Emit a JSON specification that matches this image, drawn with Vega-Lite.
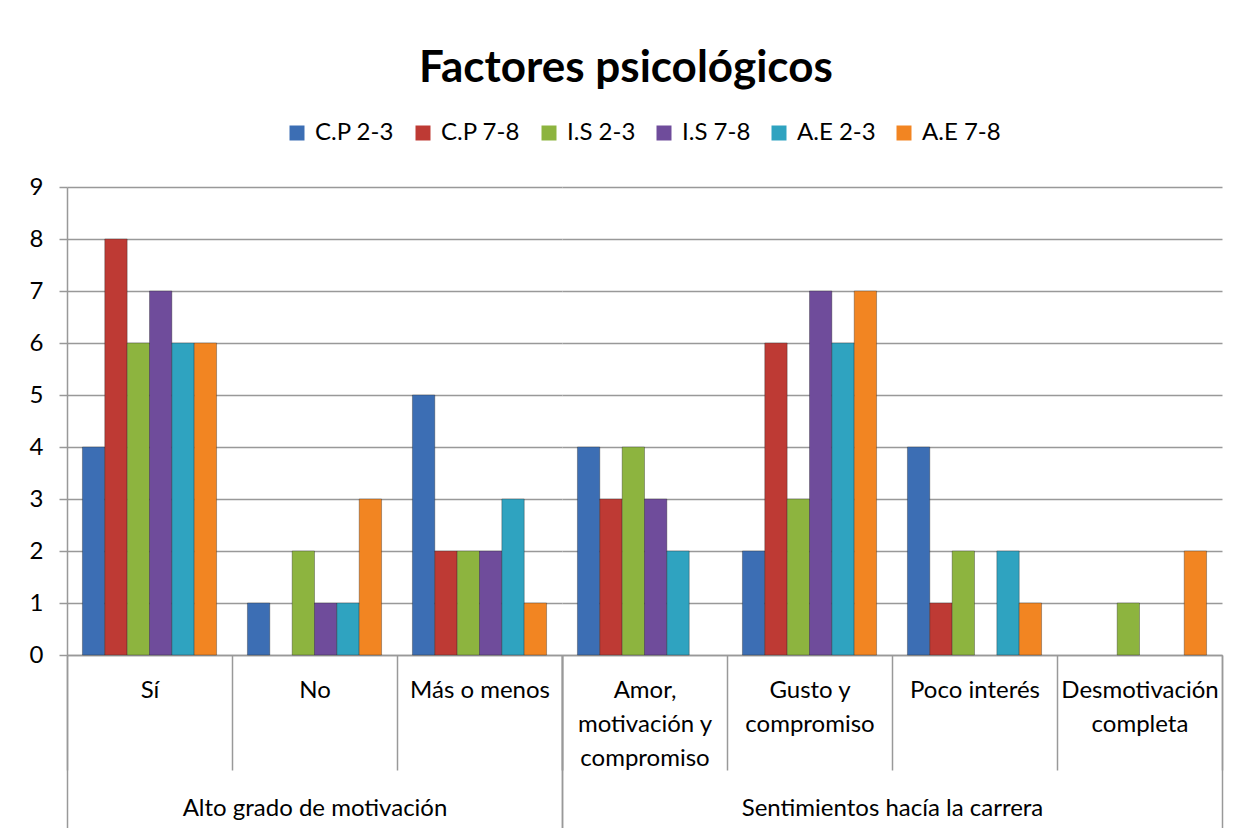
{
  "$schema": "https://vega.github.io/schema/vega-lite/v6.json",
  "background": "white",
  "padding": {"left": 29, "top": 47, "right": 10, "bottom": 0},
  "title": {"text": "Factores psicológicos", "font": "Lato", "fontSize": 44, "fontWeight": "bold", "color": "#000000", "anchor": "middle", "offset": 30},
  "data": {"values": [
    {"group": "Alto grado de motivación", "category": "Sí", "series": "C.P 2-3", "value": 4},
    {"group": "Alto grado de motivación", "category": "Sí", "series": "C.P 7-8", "value": 8},
    {"group": "Alto grado de motivación", "category": "Sí", "series": "I.S 2-3", "value": 6},
    {"group": "Alto grado de motivación", "category": "Sí", "series": "I.S 7-8", "value": 7},
    {"group": "Alto grado de motivación", "category": "Sí", "series": "A.E 2-3", "value": 6},
    {"group": "Alto grado de motivación", "category": "Sí", "series": "A.E 7-8", "value": 6},
    {"group": "Alto grado de motivación", "category": "No", "series": "C.P 2-3", "value": 1},
    {"group": "Alto grado de motivación", "category": "No", "series": "C.P 7-8", "value": 0},
    {"group": "Alto grado de motivación", "category": "No", "series": "I.S 2-3", "value": 2},
    {"group": "Alto grado de motivación", "category": "No", "series": "I.S 7-8", "value": 1},
    {"group": "Alto grado de motivación", "category": "No", "series": "A.E 2-3", "value": 1},
    {"group": "Alto grado de motivación", "category": "No", "series": "A.E 7-8", "value": 3},
    {"group": "Alto grado de motivación", "category": "Más o menos", "series": "C.P 2-3", "value": 5},
    {"group": "Alto grado de motivación", "category": "Más o menos", "series": "C.P 7-8", "value": 2},
    {"group": "Alto grado de motivación", "category": "Más o menos", "series": "I.S 2-3", "value": 2},
    {"group": "Alto grado de motivación", "category": "Más o menos", "series": "I.S 7-8", "value": 2},
    {"group": "Alto grado de motivación", "category": "Más o menos", "series": "A.E 2-3", "value": 3},
    {"group": "Alto grado de motivación", "category": "Más o menos", "series": "A.E 7-8", "value": 1},
    {"group": "Sentimientos hacía la carrera", "category": "Amor, motivación y compromiso", "series": "C.P 2-3", "value": 4},
    {"group": "Sentimientos hacía la carrera", "category": "Amor, motivación y compromiso", "series": "C.P 7-8", "value": 3},
    {"group": "Sentimientos hacía la carrera", "category": "Amor, motivación y compromiso", "series": "I.S 2-3", "value": 4},
    {"group": "Sentimientos hacía la carrera", "category": "Amor, motivación y compromiso", "series": "I.S 7-8", "value": 3},
    {"group": "Sentimientos hacía la carrera", "category": "Amor, motivación y compromiso", "series": "A.E 2-3", "value": 2},
    {"group": "Sentimientos hacía la carrera", "category": "Amor, motivación y compromiso", "series": "A.E 7-8", "value": 0},
    {"group": "Sentimientos hacía la carrera", "category": "Gusto y compromiso", "series": "C.P 2-3", "value": 2},
    {"group": "Sentimientos hacía la carrera", "category": "Gusto y compromiso", "series": "C.P 7-8", "value": 6},
    {"group": "Sentimientos hacía la carrera", "category": "Gusto y compromiso", "series": "I.S 2-3", "value": 3},
    {"group": "Sentimientos hacía la carrera", "category": "Gusto y compromiso", "series": "I.S 7-8", "value": 7},
    {"group": "Sentimientos hacía la carrera", "category": "Gusto y compromiso", "series": "A.E 2-3", "value": 6},
    {"group": "Sentimientos hacía la carrera", "category": "Gusto y compromiso", "series": "A.E 7-8", "value": 7},
    {"group": "Sentimientos hacía la carrera", "category": "Poco interés", "series": "C.P 2-3", "value": 4},
    {"group": "Sentimientos hacía la carrera", "category": "Poco interés", "series": "C.P 7-8", "value": 1},
    {"group": "Sentimientos hacía la carrera", "category": "Poco interés", "series": "I.S 2-3", "value": 2},
    {"group": "Sentimientos hacía la carrera", "category": "Poco interés", "series": "I.S 7-8", "value": 0},
    {"group": "Sentimientos hacía la carrera", "category": "Poco interés", "series": "A.E 2-3", "value": 2},
    {"group": "Sentimientos hacía la carrera", "category": "Poco interés", "series": "A.E 7-8", "value": 1},
    {"group": "Sentimientos hacía la carrera", "category": "Desmotivación completa", "series": "C.P 2-3", "value": 0},
    {"group": "Sentimientos hacía la carrera", "category": "Desmotivación completa", "series": "C.P 7-8", "value": 0},
    {"group": "Sentimientos hacía la carrera", "category": "Desmotivación completa", "series": "I.S 2-3", "value": 1},
    {"group": "Sentimientos hacía la carrera", "category": "Desmotivación completa", "series": "I.S 7-8", "value": 0},
    {"group": "Sentimientos hacía la carrera", "category": "Desmotivación completa", "series": "A.E 2-3", "value": 0},
    {"group": "Sentimientos hacía la carrera", "category": "Desmotivación completa", "series": "A.E 7-8", "value": 2}
  ]},
  "bounds": "flush",
  "spacing": 0,
  "hconcat": [
    {
      "width": 495,
      "height": 468,
      "transform": [{"filter": "datum.group == 'Alto grado de motivación'"}],
      "layer": [
        {
          "transform": [{"filter": "datum.value > 0"}],
          "mark": {"type": "bar", "stroke": "#222222", "strokeOpacity": 0.35, "strokeWidth": 1},
          "encoding": {
            "x": {"field": "category", "type": "nominal", "sort": ["Sí", "No", "Más o menos"],
              "scale": {"domain": ["Sí", "No", "Más o menos"], "paddingInner": 0, "paddingOuter": 0},
              "axis": {"orient": "bottom", "title": null, "labelAngle": 0, "tickBand": "extent", "tickSize": 115, "labelPadding": -92,
                "labelFontSize": 24, "labelLineHeight": 34, "labelLimit": 170}},
            "xOffset": {"field": "series", "type": "nominal", "sort": ["C.P 2-3", "C.P 7-8", "I.S 2-3", "I.S 7-8", "A.E 2-3", "A.E 7-8"],
              "scale": {"domain": ["C.P 2-3", "C.P 7-8", "I.S 2-3", "I.S 7-8", "A.E 2-3", "A.E 7-8"], "paddingInner": 0, "paddingOuter": 0.69}},
            "y": {"field": "value", "type": "quantitative", "scale": {"domain": [0, 9], "nice": false},
              "axis": {"title": null, "values": [0,1,2,3,4,5,6,7,8,9], "grid": true, "tickSize": 8, "labelPadding": 16, "labelFontSize": 24}},
            "color": {"field": "series", "type": "nominal", "sort": ["C.P 2-3", "C.P 7-8", "I.S 2-3", "I.S 7-8", "A.E 2-3", "A.E 7-8"],
              "scale": {"domain": ["C.P 2-3", "C.P 7-8", "I.S 2-3", "I.S 7-8", "A.E 2-3", "A.E 7-8"],
                "range": ["#3C6EB4", "#BE3A34", "#8DB43F", "#6F4C9B", "#2FA3C0", "#F28522"]},
              "legend": {"title": null, "orient": "none", "legendX": 218, "legendY": -66, "direction": "horizontal", "symbolType": "square", "symbolSize": 225,
                "symbolStrokeWidth": 0, "labelFontSize": 24, "labelOffset": 6, "columnPadding": 16}}
          }
        },
        {
          "mark": {"type": "rule", "opacity": 0},
          "encoding": {
            "x": {"field": "group", "type": "nominal", "scale": {"paddingInner": 0, "paddingOuter": 0},
              "axis": {"orient": "bottom", "title": null, "labelAngle": 0, "domain": false, "tickBand": "extent", "tickSize": 180,
                "labelPadding": -27, "labelBaseline": "middle", "labelFontSize": 24, "labelLimit": 400}}
          }
        }
      ],
      "resolve": {"scale": {"x": "independent"}, "axis": {"x": "independent"}}
    },
    {
      "width": 660,
      "height": 468,
      "transform": [{"filter": "datum.group == 'Sentimientos hacía la carrera'"}],
      "layer": [
        {
          "transform": [{"filter": "datum.value > 0"}],
          "mark": {"type": "bar", "stroke": "#222222", "strokeOpacity": 0.35, "strokeWidth": 1},
          "encoding": {
            "x": {"field": "category", "type": "nominal", "sort": ["Amor, motivación y compromiso", "Gusto y compromiso", "Poco interés", "Desmotivación completa"],
              "scale": {"domain": ["Amor, motivación y compromiso", "Gusto y compromiso", "Poco interés", "Desmotivación completa"], "paddingInner": 0, "paddingOuter": 0},
              "axis": {"orient": "bottom", "title": null, "labelAngle": 0, "tickBand": "extent", "tickSize": 115, "labelPadding": -92,
                "labelFontSize": 24, "labelLineHeight": 34, "labelLimit": 170,
                "labelExpr": "datum.label == 'Amor, motivación y compromiso' ? ['Amor,', 'motivación y', 'compromiso'] : datum.label == 'Gusto y compromiso' ? ['Gusto y', 'compromiso'] : datum.label == 'Desmotivación completa' ? ['Desmotivación', 'completa'] : datum.label"}},
            "xOffset": {"field": "series", "type": "nominal", "sort": ["C.P 2-3", "C.P 7-8", "I.S 2-3", "I.S 7-8", "A.E 2-3", "A.E 7-8"],
              "scale": {"domain": ["C.P 2-3", "C.P 7-8", "I.S 2-3", "I.S 7-8", "A.E 2-3", "A.E 7-8"], "paddingInner": 0, "paddingOuter": 0.69}},
            "y": {"field": "value", "type": "quantitative", "scale": {"domain": [0, 9], "nice": false},
              "axis": {"title": null, "values": [0,1,2,3,4,5,6,7,8,9], "grid": true, "labels": false, "ticks": false, "domain": false}},
            "color": {"field": "series", "type": "nominal", "sort": ["C.P 2-3", "C.P 7-8", "I.S 2-3", "I.S 7-8", "A.E 2-3", "A.E 7-8"],
              "scale": {"domain": ["C.P 2-3", "C.P 7-8", "I.S 2-3", "I.S 7-8", "A.E 2-3", "A.E 7-8"],
                "range": ["#3C6EB4", "#BE3A34", "#8DB43F", "#6F4C9B", "#2FA3C0", "#F28522"]}}
          }
        },
        {
          "mark": {"type": "rule", "opacity": 0},
          "encoding": {
            "x": {"field": "group", "type": "nominal", "scale": {"paddingInner": 0, "paddingOuter": 0},
              "axis": {"orient": "bottom", "title": null, "labelAngle": 0, "domain": false, "tickBand": "extent", "tickSize": 180,
                "labelPadding": -27, "labelBaseline": "middle", "labelFontSize": 24, "labelLimit": 400}}
          }
        }
      ],
      "resolve": {"scale": {"x": "independent"}, "axis": {"x": "independent"}}
    }
  ],
  "resolve": {"scale": {"color": "shared"}},
  "config": {
    "font": "Lato",
    "view": {"stroke": null},
    "axis": {"labelFont": "Lato", "labelColor": "#000000", "domainColor": "#999999", "domainWidth": 1.5, "tickColor": "#999999", "tickWidth": 1.5, "gridColor": "#999999", "gridWidth": 1.5, "gridOpacity": 1},
    "legend": {"labelFont": "Lato", "labelColor": "#000000"}
  }
}
